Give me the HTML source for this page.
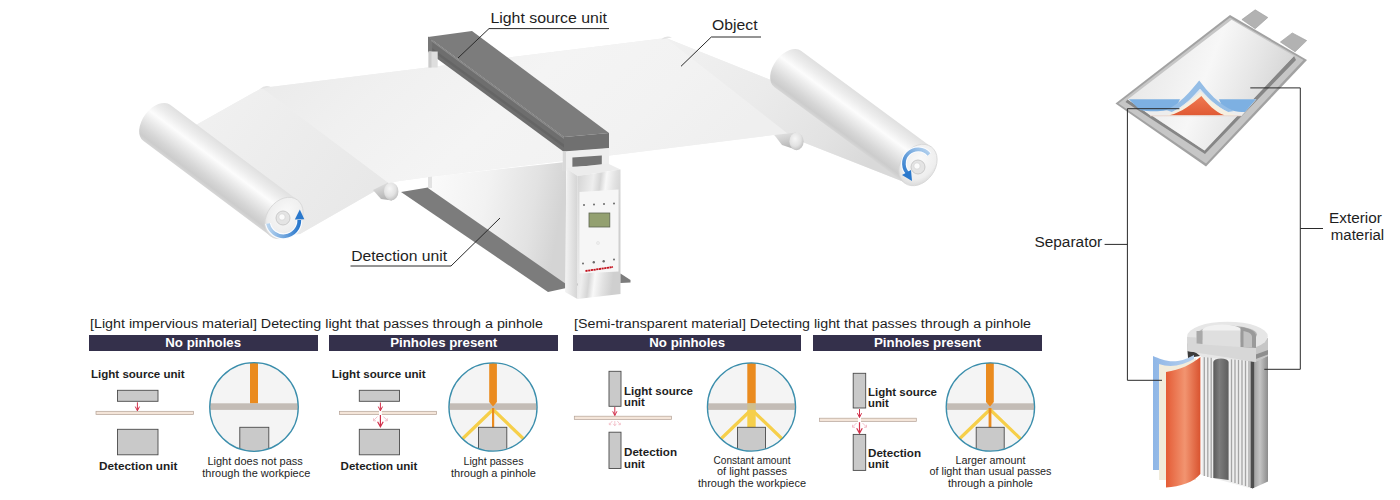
<!DOCTYPE html>
<html><head><meta charset="utf-8"><title>Pinhole detection</title>
<style>
html,body{margin:0;padding:0;background:#fff;width:1400px;height:500px;overflow:hidden}
svg{display:block}
text{font-family:"Liberation Sans",sans-serif}
.b{font-weight:bold}
</style></head><body>
<svg width="1400" height="500" viewBox="0 0 1400 500">
<defs>
 <linearGradient id="roll" x1="0" y1="0" x2="0" y2="1">
  <stop offset="0" stop-color="#e0e0e0"/><stop offset="0.2" stop-color="#ededed"/><stop offset="0.38" stop-color="#fcfcfc"/><stop offset="0.52" stop-color="#eeeeee"/><stop offset="0.78" stop-color="#d6d6d6"/><stop offset="0.92" stop-color="#cccccc"/><stop offset="1" stop-color="#d6d6d6"/>
 </linearGradient>
 <radialGradient id="cap" cx="0.45" cy="0.4" r="0.65">
  <stop offset="0" stop-color="#fafafa"/><stop offset="0.7" stop-color="#eeeeee"/><stop offset="1" stop-color="#d6d6d6"/>
 </radialGradient>
 <linearGradient id="sheetL" x1="0" y1="0" x2="1" y2="0.5">
  <stop offset="0" stop-color="#f2f2f2"/><stop offset="0.5" stop-color="#ededed"/><stop offset="1" stop-color="#e8e8e8"/>
 </linearGradient>
 <linearGradient id="sheetM" x1="0" y1="0" x2="1" y2="0.3">
  <stop offset="0" stop-color="#e9e9e9"/><stop offset="0.3" stop-color="#f0f0f0"/><stop offset="0.55" stop-color="#f4f4f4"/><stop offset="0.8" stop-color="#f2f2f2"/><stop offset="1" stop-color="#efefef"/>
 </linearGradient>
 <linearGradient id="sheetR" x1="0" y1="0" x2="1" y2="0.5">
  <stop offset="0" stop-color="#f1f1f1"/><stop offset="0.45" stop-color="#ebebeb"/><stop offset="0.8" stop-color="#e2e2e2"/><stop offset="1" stop-color="#d9d9d9"/>
 </linearGradient>
 <linearGradient id="body" x1="0" y1="0" x2="1" y2="0.15">
  <stop offset="0" stop-color="#fbfbfb"/><stop offset="0.45" stop-color="#f2f2f2"/><stop offset="0.8" stop-color="#e2e2e2"/><stop offset="1" stop-color="#d4d4d4"/>
 </linearGradient>
 <linearGradient id="box" x1="0" y1="0" x2="1" y2="0.35">
  <stop offset="0" stop-color="#d4d4d4"/><stop offset="0.35" stop-color="#eeeeee"/><stop offset="0.5" stop-color="#d6d6d6"/><stop offset="0.62" stop-color="#f8f8f8"/><stop offset="0.8" stop-color="#e2e2e2"/><stop offset="1" stop-color="#cfcfcf"/>
 </linearGradient>
 <linearGradient id="boxSide" x1="0" y1="0" x2="1" y2="0">
  <stop offset="0" stop-color="#f4f4f4"/><stop offset="1" stop-color="#d4d4d4"/>
 </linearGradient>
 <linearGradient id="arrowL" x1="0" y1="0" x2="1" y2="0">
  <stop offset="0" stop-color="#b8d4ef"/><stop offset="1" stop-color="#2a78cc"/>
 </linearGradient>
 <linearGradient id="arrowR" x1="1" y1="0" x2="0" y2="1">
  <stop offset="0" stop-color="#b8d4ef"/><stop offset="1" stop-color="#2a78cc"/>
 </linearGradient>
 <clipPath id="c1"><circle cx="254" cy="407" r="44.3"/></clipPath>
 <clipPath id="c2"><circle cx="493" cy="407" r="44.1"/></clipPath>
 <clipPath id="c3"><circle cx="751.5" cy="407" r="44.1"/></clipPath>
 <clipPath id="c4"><circle cx="990.4" cy="407" r="44.2"/></clipPath>

 <linearGradient id="pouch" x1="0" y1="0" x2="1" y2="0.3">
  <stop offset="0" stop-color="#e4e4e4"/><stop offset="0.35" stop-color="#efefef"/><stop offset="0.55" stop-color="#f7f7f7"/><stop offset="0.8" stop-color="#e6e6e6"/><stop offset="1" stop-color="#d6d6d6"/>
 </linearGradient>
 <linearGradient id="orangeL" x1="0" y1="0" x2="1" y2="0">
  <stop offset="0" stop-color="#e45c36"/><stop offset="0.55" stop-color="#f29470"/><stop offset="1" stop-color="#d9532f"/>
 </linearGradient>
 <linearGradient id="orangeP" x1="0" y1="0" x2="0" y2="1">
  <stop offset="0" stop-color="#f07a52"/><stop offset="1" stop-color="#e05a34"/>
 </linearGradient>
 <linearGradient id="canR" x1="0" y1="0" x2="1" y2="0">
  <stop offset="0" stop-color="#5a5a5a"/><stop offset="0.2" stop-color="#a8a8a8"/><stop offset="0.5" stop-color="#c4c4c4"/><stop offset="1" stop-color="#8c8c8c"/>
 </linearGradient>
 <linearGradient id="core" x1="0" y1="0" x2="1" y2="0">
  <stop offset="0" stop-color="#5a5a5a"/><stop offset="0.4" stop-color="#7c7c7c"/><stop offset="1" stop-color="#5e5e5e"/>
 </linearGradient>
 <linearGradient id="capSide" x1="0" y1="0" x2="1" y2="0">
  <stop offset="0" stop-color="#d4d4d4"/><stop offset="0.5" stop-color="#e8e8e8"/><stop offset="1" stop-color="#c0c0c0"/>
 </linearGradient>
 <linearGradient id="blueL" x1="0" y1="0" x2="1" y2="0">
  <stop offset="0" stop-color="#8fb6e6"/><stop offset="1" stop-color="#b7d2f0"/>
 </linearGradient>
 <linearGradient id="stubBody" x1="0" y1="0" x2="0.3" y2="1">
  <stop offset="0" stop-color="#e6e6e6"/><stop offset="0.5" stop-color="#cfcfcf"/><stop offset="1" stop-color="#b4b4b4"/>
 </linearGradient>
 <radialGradient id="stubCap" cx="0.4" cy="0.35" r="0.7">
  <stop offset="0" stop-color="#f6f6f6"/><stop offset="0.6" stop-color="#e2e2e2"/><stop offset="1" stop-color="#bdbdbd"/>
 </radialGradient>
</defs>

<!-- ===================== TOP ILLUSTRATION ===================== -->
<g id="machine">
 <!-- dark floor plate -->
 <polygon points="401,192 428,187.5 580,285 548,292" fill="#7c7c7c"/>
 <!-- detection long body -->
 <polygon points="428,177 566,162 566,284 428,188" fill="url(#body)"/>
 <rect x="428" y="176" width="4" height="12" fill="#e2e2e2"/>
 <!-- sheet base -->
 <polygon points="180,134 262,88 666,38 776,82 915,172 904,182 800,141 773,135 620,154.3 432,176.5 396,181.5 388,184 375,191 300,234 276,236" fill="#efefef"/>
 <!-- sheet: left slope -->
 <polygon points="180,134 262,88 390,184 375,191 300,234 276,236" fill="url(#sheetL)"/>
 <!-- sheet: middle -->
 <polygon points="262,88 666,38 792,137 773,135 620,154.3 432,176.5 396,181.5 390,184" fill="url(#sheetM)"/>
 <!-- sheet: right slope -->
 <polygon points="666,38 776,82 915,172 904,182 800,141 792,137" fill="url(#sheetR)"/>
 <path d="M260,89 Q265,84 271,87 Z" fill="#e4e4e4"/>
 <path d="M661,39.5 Q666,34.5 672,37.5 Z" fill="#e4e4e4"/>
 <!-- stub rollers (near ends of idlers) -->
 <g>
  <path d="M373,190 L388,182.5 L392,200.5 L381,199 Z" fill="url(#stubBody)"/>
  <ellipse cx="391.2" cy="191.4" rx="7.2" ry="9" fill="url(#stubCap)"/>
  <path d="M774.3,135 L796,132.5 L797,150 L782,145 Z" fill="url(#stubBody)"/>
  <ellipse cx="796.5" cy="141.4" rx="7.1" ry="8.8" fill="url(#stubCap)"/>
 </g>
 <!-- left roller -->
 <g transform="translate(284,218) rotate(36.8)">
  <path d="M0,-22.5 H-159 A14,22.5 0 0 0 -159,22.5 H0 Z" fill="url(#roll)"/>
  <ellipse cx="0" cy="0" rx="17" ry="22.5" fill="url(#cap)" stroke="#d6d6d6" stroke-width="0.8"/>
 </g>
 <!-- right roller -->
 <g transform="translate(918,165) rotate(36.4)">
  <path d="M0,-22.5 H-162 A14,22.5 0 0 0 -162,22.5 H0 Z" fill="url(#roll)"/>
  <ellipse cx="0" cy="0" rx="17" ry="22.5" fill="url(#cap)" stroke="#d6d6d6" stroke-width="0.8"/>
 </g>
 <!-- hubs -->
 <circle cx="283" cy="218" r="7" fill="#e4e4e4" stroke="#c6c6c6" stroke-width="0.9"/>
 <circle cx="282" cy="217" r="3.2" fill="#fbfbfb" stroke="#cccccc" stroke-width="0.6"/>
 <circle cx="918" cy="167" r="7" fill="#e4e4e4" stroke="#c6c6c6" stroke-width="0.9"/>
 <circle cx="917" cy="166" r="3.2" fill="#fbfbfb" stroke="#cccccc" stroke-width="0.6"/>
 <!-- rotation arrows -->
 <path d="M268,223.5 A15.8,15.8 0 0 0 299.3,220" fill="none" stroke="#fafcff" stroke-width="6"/>
 <path d="M268,223.5 A15.8,15.8 0 0 0 299.3,220" fill="none" stroke="url(#arrowL)" stroke-width="3.8"/>
 <path d="M294.8,219.5 L299.8,209.5 L304.3,219.2 Z" fill="#2a78cc"/>
 <path d="M929,154.5 A14.2,14.2 0 1 0 909,174.5" fill="none" stroke="#fafcff" stroke-width="5.8"/>
 <path d="M929,154.5 A14.2,14.2 0 1 0 909,174.5" fill="none" stroke="url(#arrowR)" stroke-width="3.6"/>
 <path d="M902,175 L912,181 L911,170 Z" fill="#2a78cc"/>

 <!-- light source bar -->
 <polygon points="428,37 472,31 609,133 564,137" fill="#7c7c7c"/>
 <polygon points="428,37 564,137 564,152 428,52" fill="#6e6e6e"/>
 <polygon points="428,45 564,144.5 564,147.5 428,48" fill="#656565"/>
 <polygon points="428,36.5 432.2,39.7 432.2,52 428,51.5" fill="#777777"/>
 <polygon points="431,39.5 564,137.5 564,139 431,41" fill="#8c8c8c"/>
 <polygon points="564,137 609,133 609,148.5 564,152" fill="#707070"/>
 <!-- bracket leg at left end -->
 <rect x="428.5" y="51.5" width="9.2" height="16" fill="#dedede"/>
 <rect x="428.5" y="51.5" width="3" height="16" fill="#cbcbcb"/>
 <!-- C frame -->
 <polygon points="562.8,151.5 609,148 609,168 562.8,171" fill="#eeeeee"/>
 <polygon points="562.8,151.5 566,151.3 566,171 562.8,171" fill="#d8d8d8"/>
 <polygon points="572.4,157.5 601.8,155.5 601.8,165.2 572.4,166.8" fill="#737373"/>
 <!-- detection box -->
 <polygon points="566.4,168.2 607.8,163.4 620.5,169.4 577.5,176" fill="#ececec"/>
 <polygon points="566.4,168.2 577.5,176 577.5,299 565,292" fill="url(#boxSide)"/>
 <polygon points="577.5,176 620.5,169.4 620.5,294 577.5,299" fill="url(#box)"/>
 <polygon points="579.5,192 618.5,189.5 618.5,271.5 579.5,273.5" fill="#f6f6f6"/>
 <rect x="589" y="213" width="20.8" height="14" fill="#93a070" stroke="#5d6450" stroke-width="0.8"/>
 <g fill="#6a6a6a">
  <circle cx="584" cy="205" r="1"/><circle cx="594" cy="204.5" r="1"/><circle cx="604" cy="204" r="1"/><circle cx="614" cy="203.5" r="1"/>
  <circle cx="583" cy="263.5" r="1"/><circle cx="593.8" cy="262.3" r="1.2"/><circle cx="603.7" cy="261.2" r="1.2"/><circle cx="614" cy="259.6" r="1"/>
 </g>
 <path d="M585.5,271 L613,267" stroke="#c4121e" stroke-width="1.8" stroke-dasharray="2.2,0.5"/>
 <circle cx="598" cy="243" r="1.6" fill="#ececec" stroke="#dedede" stroke-width="0.5"/>
 <polygon points="620.5,273.5 630.5,280 630.5,282.5 620.5,283" fill="#7c7c7c"/>

 <!-- labels -->
 <g fill="none" stroke="#2a2a2a" stroke-width="1">
  <path d="M458,58 L489,28.6 H609"/>
  <path d="M681,66.3 L711.3,37 H761"/>
  <path d="M500,218 L451,266 H350.5"/>
 </g>
 <g fill="#1e1e1e" font-size="14.8">
  <text x="490.4" y="22.8" textLength="116.5" lengthAdjust="spacingAndGlyphs">Light source unit</text>
  <text x="712" y="30" textLength="45.5" lengthAdjust="spacingAndGlyphs">Object</text>
  <text x="351.2" y="260.7" textLength="96" lengthAdjust="spacingAndGlyphs">Detection unit</text>
 </g>
</g>

<g id="pouch">
 <polygon points="1241.9,19.6 1255.2,9.8 1267.8,17.5 1255.2,28.7" fill="#b2b2b2" stroke="#9c9c9c" stroke-width="0.6"/>
 <polygon points="1280.4,42 1292.3,32.9 1306.7,40.6 1295.1,51.8" fill="#b2b2b2" stroke="#9c9c9c" stroke-width="0.6"/>
 <polygon points="1115.5,103.5 1230,15 1307,60 1206,166.5" fill="#a2a2a2"/>
 <polygon points="1118.5,103.5 1230,17.5 1303.5,60 1206,163.5" fill="#c6c6c6"/>
 <polygon points="1127.6,99.6 1204.5,150.5 1294,56 1296,60 1205,154 1125.5,102" fill="#868686"/>
 <polygon points="1127.6,99.6 1231.6,19.8 1294,56 1204.5,150.5" fill="url(#pouch)"/>
 <!-- cutaway: lower region -->
 <polygon points="1128.5,99.2 1256.5,99.2 1241.5,116 1151,116" fill="#ededed"/>
 <!-- blue separator band -->
 <path d="M1128.8,99.2 H1180 L1176,107 C1168,112 1150,112 1140,110 Z" fill="#7db0e2"/>
 <path d="M1219,99.2 H1256 L1245,112 C1236,112 1228,110 1222,106 Z" fill="#7db0e2"/>
 <path d="M1166,110 C1180,104 1190,92 1199.2,80.5 C1208,92 1218,104 1234,111 L1228,112 C1216,106 1208,98 1200,89 C1192,98 1184,106 1172,112 Z" fill="#94bde6"/>
 <path d="M1172,112 C1184,106 1192,98 1200,89 C1208,98 1216,106 1228,112 Z" fill="#dfe8f2"/>
 <path d="M1166,115.3 C1180,110 1190,101 1200.5,91.5 C1210,101 1220,110 1236,115.3 Z" fill="#f6efe0"/>
 <path d="M1169.5,115.3 C1182,112 1192,104 1201.4,95.9 C1208,104 1214,111 1224.5,115.3 Z" fill="url(#orangeP)"/>
 <line x1="1150" y1="115.8" x2="1241" y2="115.8" stroke="#e6cfc6" stroke-width="0.8"/>
</g>

<g id="cyl">
 <!-- dark back rim -->
 <path d="M1187,344 L1195,338 L1200,356 L1188,358 Z" fill="#3c3c3c"/>
 <!-- right can -->
 <path d="M1252,353 L1268,345 L1268,481.6 L1252,488.8 Z" fill="url(#canR)"/>
 <!-- interior stripes -->
 <path d="M1201.5,356 L1252,360 L1252,488.8 L1201.5,475 Z" fill="#eeeeee"/>
 <g stroke="#a4a4a4" stroke-width="1.3">
  <line x1="1204.3" y1="357" x2="1204.3" y2="476"/>
  <line x1="1207.8" y1="357" x2="1207.8" y2="477"/>
  <line x1="1211.2" y1="357" x2="1211.2" y2="478"/>
  <line x1="1231.5" y1="358" x2="1231.5" y2="482"/>
  <line x1="1235" y1="358" x2="1235" y2="483"/>
  <line x1="1238.5" y1="358" x2="1238.5" y2="484"/>
  <line x1="1242" y1="358" x2="1242" y2="485"/>
  <line x1="1245.5" y1="359" x2="1245.5" y2="486"/>
  <line x1="1249" y1="359" x2="1249" y2="487"/>
 </g>
 <path d="M1195,352 L1256,356 L1252,361 L1201.5,357 Z" fill="#e6e6e6"/>
 <path d="M1250.5,359 L1254,356 L1254,488 L1250.5,488 Z" fill="#4e4e4e"/>
 <!-- core -->
 <path d="M1213.3,362 A7.6,3.5 0 0 1 1228.6,362 L1228.6,480 L1213.3,478 Z" fill="url(#core)"/>
 <!-- cap -->
 <path d="M1187.2,337 L1187.2,351 L1255,362 L1268,356 L1268,338 Z" fill="url(#capSide)"/>
 <path d="M1255,345 L1268,340 L1268,356 L1255,362 Z" fill="#c6c6c6"/>
 <path d="M1253,355.5 L1268,350 L1268,354.5 L1253,360 Z" fill="#8e8e8e"/>
 <ellipse cx="1227.5" cy="336.5" rx="40.3" ry="14.8" fill="#e6e6e6"/>
 <ellipse cx="1227" cy="334.5" rx="30" ry="9" fill="#b4b4b4"/>
 <ellipse cx="1222" cy="330.5" rx="19.5" ry="6" fill="#f1f1f1"/>
 <path d="M1187.2,337 L1196.5,337.5 L1196.5,343.5 L1202.5,344 L1202.5,331 L1240.5,331 L1240.5,347 L1256,348 L1256,362 L1187.2,351 Z" fill="#d7d7d7"/>
 <path d="M1202.5,330.5 L1240.5,330.5 L1240.5,347 L1202.5,344.5 Z" fill="#dfdfdf"/>
 <path d="M1196.5,331 L1202.5,331 L1202.5,344 L1196.5,343.5 Z" fill="#a9a9a9"/>
 <path d="M1240.5,327 C1249,328 1256,331 1256,336 L1256,348 L1240.5,347 Z" fill="#9a9a9a"/>
 <path d="M1243.5,331 C1249,332 1252,334 1252,337 L1252,347.5 L1243.5,347 Z" fill="#c2c2c2"/>
 <!-- peeled layers -->
 <path d="M1153,356 C1163,360 1175,366 1194,355 L1194,470 L1153,470 Z" fill="url(#blueL)"/>
 <path d="M1159,364 C1170,368 1182,366 1196,358 L1196,480 L1159,480 Z" fill="#f1ecdc"/>
 <path d="M1166,372 C1180,370 1192,364 1200.4,357 L1200.4,474 C1194,482 1180,487 1166,487.5 Z" fill="url(#orangeL)"/>
</g>

<!-- leader lines & labels (battery) -->
<g fill="none" stroke="#2a2a2a" stroke-width="1">
 <path d="M1179.4,108.7 H1127.4 V380.3 H1162"/>
 <path d="M1104.6,244.4 H1127.4"/>
 <path d="M1250.3,87.9 H1300.3 V369.3 H1264.3"/>
 <path d="M1300.3,228.5 H1323"/>
</g>
<g fill="#1e1e1e" font-size="14">
 <text x="1034.4" y="247.4" textLength="67.8" lengthAdjust="spacingAndGlyphs">Separator</text>
 <text x="1329" y="223.4" textLength="52.8" lengthAdjust="spacingAndGlyphs">Exterior</text>
 <text x="1330.8" y="239.6" textLength="53.4" lengthAdjust="spacingAndGlyphs">material</text>
</g>

<!-- ===================== BOTTOM PANELS ===================== -->
<g id="titles" fill="#1e1e1e">
 <text x="90" y="328" font-size="13.7" textLength="453" lengthAdjust="spacingAndGlyphs">[Light impervious material] Detecting light that passes through a pinhole</text>
 <text x="574" y="328" font-size="13.7" textLength="457" lengthAdjust="spacingAndGlyphs">[Semi-transparent material] Detecting light that passes through a pinhole</text>
</g>
<g id="bars">
 <rect x="89" y="335" width="229" height="16" fill="#34304b"/>
 <rect x="329" y="335" width="229" height="16" fill="#34304b"/>
 <rect x="573" y="335" width="228" height="16" fill="#34304b"/>
 <rect x="813" y="335" width="229" height="16" fill="#34304b"/>
 <g fill="#fff" class="b" font-size="13.5" font-weight="bold">
  <text x="165.3" y="347" textLength="75.8" lengthAdjust="spacingAndGlyphs">No pinholes</text>
  <text x="390.2" y="347" textLength="107" lengthAdjust="spacingAndGlyphs">Pinholes present</text>
  <text x="649.3" y="347" textLength="75.8" lengthAdjust="spacingAndGlyphs">No pinholes</text>
  <text x="874" y="347" textLength="107" lengthAdjust="spacingAndGlyphs">Pinholes present</text>
 </g>
</g>

<!-- Panel 1 -->
<g id="p1">
 <text x="91" y="378" font-size="11.3" font-weight="bold" fill="#1e1e1e" textLength="93.6" lengthAdjust="spacingAndGlyphs">Light source unit</text>
 <rect x="117.5" y="390.3" width="40.5" height="11" fill="#c9c9c9" stroke="#4a4a4a" stroke-width="0.9"/>
 <rect x="96" y="411.3" width="97.5" height="3.2" fill="#f4e5d9" stroke="#b4a296" stroke-width="0.7"/>
 <path d="M137.4,402.3V410.6M135.3,406.6L137.4,410.8L139.5,406.6" fill="none" stroke="#d2304a" stroke-width="1"/>
 <rect x="117.5" y="429.3" width="40.5" height="25.5" fill="#c9c9c9" stroke="#4a4a4a" stroke-width="0.9"/>
 <text x="99" y="470" font-size="11.3" font-weight="bold" fill="#1e1e1e" textLength="78.4" lengthAdjust="spacingAndGlyphs">Detection unit</text>
 <circle cx="254" cy="407" r="44.3" fill="#f4f4f4"/>
 <g clip-path="url(#c1)">
  <rect x="250" y="360" width="8" height="43.5" fill="#ea8b1f"/>
  <rect x="205" y="403.3" width="100" height="6.6" fill="#c3bcb6"/>
  <rect x="239.8" y="427.3" width="29" height="30" fill="#c9c9c9" stroke="#4a4a4a" stroke-width="0.9"/>
 </g>
 <circle cx="254" cy="407" r="44.3" fill="none" stroke="#3b8eac" stroke-width="1.3"/>
 <g font-size="10.3" fill="#1e1e1e" text-anchor="middle">
  <text x="255.1" y="464.6" textLength="95.4" lengthAdjust="spacingAndGlyphs">Light does not pass</text>
  <text x="256.3" y="476.6" textLength="108" lengthAdjust="spacingAndGlyphs">through the workpiece</text>
 </g>
</g>

<!-- Panel 2 -->
<g id="p2">
 <text x="331.7" y="378" font-size="11.3" font-weight="bold" fill="#1e1e1e" textLength="94" lengthAdjust="spacingAndGlyphs">Light source unit</text>
 <rect x="359.3" y="390.3" width="40.2" height="11" fill="#c9c9c9" stroke="#4a4a4a" stroke-width="0.9"/>
 <rect x="339.4" y="411.3" width="97.2" height="3.2" fill="#f4e5d9" stroke="#b4a296" stroke-width="0.7"/>
 <rect x="379" y="410.5" width="2.8" height="4.8" fill="#fff"/>
 <path d="M380.4,402.5V410.6M378.3,406.6L380.4,410.8L382.5,406.6" fill="none" stroke="#d2304a" stroke-width="1"/>
 <path d="M380.4,415V426.6M377.6,421.8L380.4,426.8L383.2,421.8" fill="none" stroke="#d2304a" stroke-width="1.2"/>
 <path d="M377.5,416.5L373.5,420.5M373.5,418.3V420.8H376M383.3,416.5L387.3,420.5M387.3,418.3V420.8H384.8" fill="none" stroke="#f0b0bc" stroke-width="0.8"/>
 <rect x="359.3" y="429.3" width="40.2" height="25.5" fill="#c9c9c9" stroke="#4a4a4a" stroke-width="0.9"/>
 <text x="340.6" y="470" font-size="11.3" font-weight="bold" fill="#1e1e1e" textLength="76.8" lengthAdjust="spacingAndGlyphs">Detection unit</text>
 <circle cx="493" cy="407" r="44.1" fill="#f4f4f4"/>
 <g clip-path="url(#c2)">
  <rect x="444" y="403.3" width="100" height="6.6" fill="#c3bcb6"/>
  <path d="M489.2,360V402L493,406.5L496.9,402V360Z" fill="#ea8b1f"/>
  <path d="M493,409.5L455,446M493,409.5L531,446" stroke="#f6cf4a" stroke-width="3.2"/>
  <rect x="492" y="408" width="2.2" height="20" fill="#ea8b1f"/>
  <rect x="478.5" y="427.3" width="28.3" height="30" fill="#c9c9c9" stroke="#4a4a4a" stroke-width="0.9"/>
 </g>
 <circle cx="493" cy="407" r="44.1" fill="none" stroke="#3b8eac" stroke-width="1.3"/>
 <g font-size="10.3" fill="#1e1e1e" text-anchor="middle">
  <text x="493.5" y="464.6" textLength="60" lengthAdjust="spacingAndGlyphs">Light passes</text>
  <text x="493.5" y="476.6" textLength="85" lengthAdjust="spacingAndGlyphs">through a pinhole</text>
 </g>
</g>

<!-- Panel 3 -->
<g id="p3">
 <rect x="609" y="371.3" width="12" height="35" fill="#c9c9c9" stroke="#4a4a4a" stroke-width="0.9"/>
 <rect x="574.3" y="416.2" width="97.2" height="3.2" fill="#f4e5d9" stroke="#b4a296" stroke-width="0.7"/>
 <path d="M614.8,407V415.3M612.7,411.3L614.8,415.5L616.9,411.3" fill="none" stroke="#d2304a" stroke-width="1"/>
 <path d="M612.3,421L609.5,424.5M614.8,421V425.5M617.3,421L620.1,424.5M609.3,422.8V424.7H611.2M620.3,422.8V424.7H618.4M613.2,423.8L614.8,425.8L616.4,423.8" fill="none" stroke="#f0b0bc" stroke-width="0.7"/>
 <rect x="609" y="432.2" width="12" height="36.3" fill="#c9c9c9" stroke="#4a4a4a" stroke-width="0.9"/>
 <g font-size="11.3" font-weight="bold" fill="#1e1e1e">
  <text x="624" y="395.3" textLength="69" lengthAdjust="spacingAndGlyphs">Light source</text>
  <text x="624" y="406.3">unit</text>
  <text x="624" y="456.3" textLength="53" lengthAdjust="spacingAndGlyphs">Detection</text>
  <text x="624" y="467.5">unit</text>
 </g>
 <circle cx="751.5" cy="407" r="44.1" fill="#f4f4f4"/>
 <g clip-path="url(#c3)">
  <rect x="700" y="403.3" width="100" height="6.6" fill="#c3bcb6"/>
  <rect x="747.3" y="360" width="8.4" height="43.5" fill="#ea8b1f"/>
  <path d="M751.5,409.5L713.5,446M751.5,409.5L789.5,446" stroke="#f6cf4a" stroke-width="3.2"/>
  <rect x="747.3" y="403.3" width="8.4" height="6.6" fill="#cfbf8e"/>
  <rect x="747.3" y="409.9" width="8.4" height="18" fill="#f6cf4a"/>
  <rect x="737.5" y="427.3" width="28" height="30" fill="#c9c9c9" stroke="#4a4a4a" stroke-width="0.9"/>
 </g>
 <circle cx="751.5" cy="407" r="44.1" fill="none" stroke="#3b8eac" stroke-width="1.3"/>
 <g font-size="10.3" fill="#1e1e1e" text-anchor="middle">
  <text x="752" y="464.2" textLength="77" lengthAdjust="spacingAndGlyphs">Constant amount</text>
  <text x="752" y="475.4" textLength="70" lengthAdjust="spacingAndGlyphs">of light passes</text>
  <text x="752" y="486.6" textLength="108" lengthAdjust="spacingAndGlyphs">through the workpiece</text>
 </g>
</g>

<!-- Panel 4 -->
<g id="p4">
 <rect x="853.2" y="373.3" width="12.5" height="34.7" fill="#c9c9c9" stroke="#4a4a4a" stroke-width="0.9"/>
 <rect x="819.6" y="418.2" width="96.7" height="3.2" fill="#f4e5d9" stroke="#b4a296" stroke-width="0.7"/>
 <rect x="858" y="417.4" width="3" height="4.8" fill="#fff"/>
 <path d="M859.5,409V417.3M857.4,413.2L859.5,417.5L861.6,413.2" fill="none" stroke="#d2304a" stroke-width="1"/>
 <path d="M859.5,422.3V433M856.7,428.2L859.5,433.2L862.3,428.2" fill="none" stroke="#d2304a" stroke-width="1.2"/>
 <path d="M856.5,423L852.5,427M852.5,424.8V427.3H855M862.5,423L866.5,427M866.5,424.8V427.3H864" fill="none" stroke="#f0b0bc" stroke-width="0.8"/>
 <rect x="853.2" y="434.4" width="12.5" height="36" fill="#c9c9c9" stroke="#4a4a4a" stroke-width="0.9"/>
 <g font-size="11.3" font-weight="bold" fill="#1e1e1e">
  <text x="868" y="396" textLength="69" lengthAdjust="spacingAndGlyphs">Light source</text>
  <text x="868" y="406.8">unit</text>
  <text x="868" y="457" textLength="53" lengthAdjust="spacingAndGlyphs">Detection</text>
  <text x="868" y="468.2">unit</text>
 </g>
 <circle cx="990.4" cy="407" r="44.2" fill="#f4f4f4"/>
 <g clip-path="url(#c4)">
  <rect x="940" y="403.3" width="100" height="6.6" fill="#c3bcb6"/>
  <path d="M986,360V402L990,406.5L993.8,402V360Z" fill="#ea8b1f"/>
  <path d="M990,409.5L952,446M990,409.5L1028,446" stroke="#f6cf4a" stroke-width="3.2"/>
  <rect x="988.6" y="408" width="2.8" height="20" fill="#ea8b1f"/>
  <rect x="976.2" y="427.3" width="28" height="30" fill="#c9c9c9" stroke="#4a4a4a" stroke-width="0.9"/>
 </g>
 <circle cx="990.4" cy="407" r="44.2" fill="none" stroke="#3b8eac" stroke-width="1.3"/>
 <g font-size="10.3" fill="#1e1e1e" text-anchor="middle">
  <text x="990.5" y="464.2" textLength="70" lengthAdjust="spacingAndGlyphs">Larger amount</text>
  <text x="990.5" y="475.4" textLength="122" lengthAdjust="spacingAndGlyphs">of light than usual passes</text>
  <text x="990.5" y="486.6" textLength="85" lengthAdjust="spacingAndGlyphs">through a pinhole</text>
 </g>
</g>

</svg>
</body></html>
